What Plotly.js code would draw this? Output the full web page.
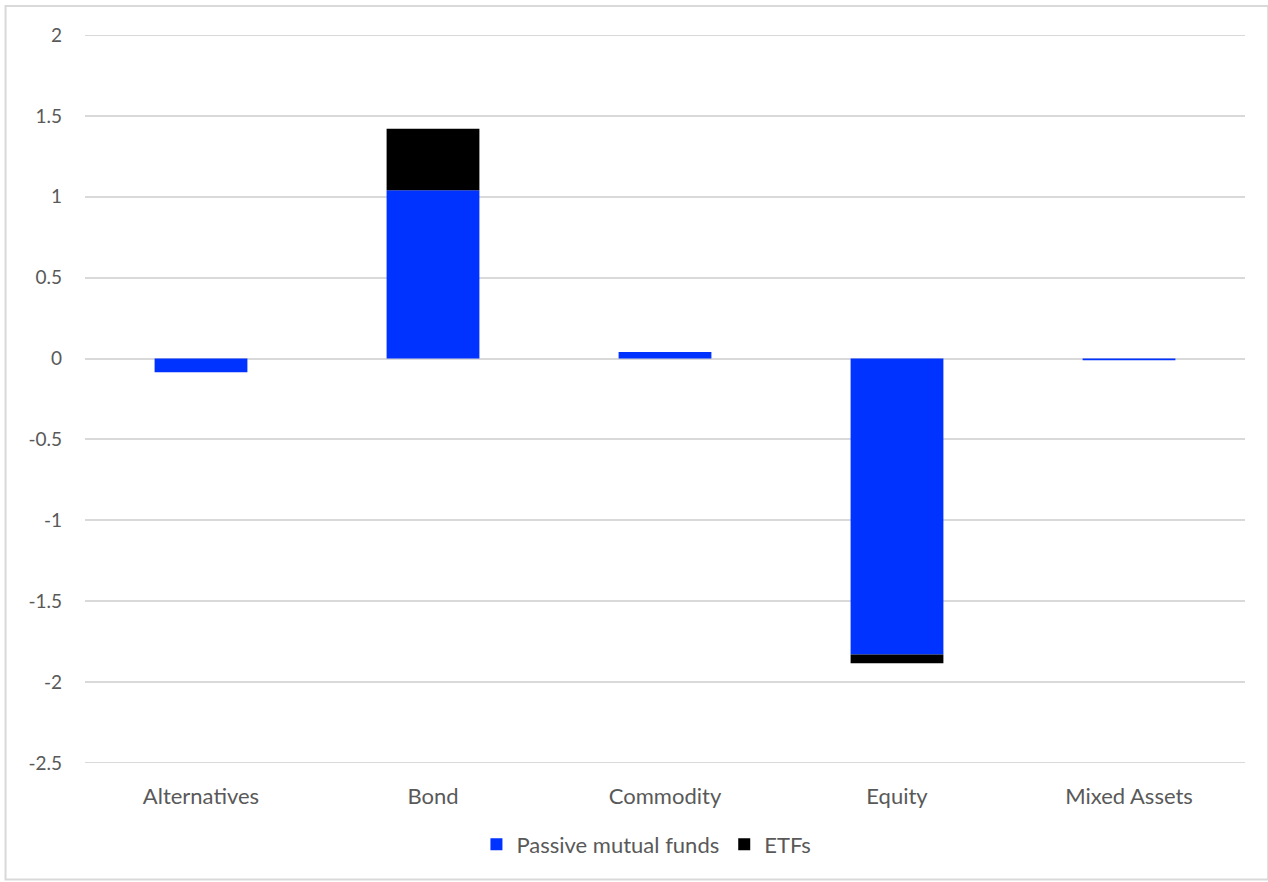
<!DOCTYPE html>
<html>
<head>
<meta charset="utf-8">
<script src="https://cdn.plot.ly/plotly-3.0.1.min.js"></script>
<style>
  html, body { margin: 0; padding: 0; background: #fff; }
  #chart { width: 1268px; height: 882px; }
</style>
</head>
<body>
<div id="chart"></div>
<script>
// Net flows by asset class, split into passive mutual funds and ETFs
const categories = ['Alternatives', 'Bond', 'Commodity', 'Equity', 'Mixed Assets'];
const passiveFunds = [-0.085, 1.04, 0.04, -1.83, -0.01];
const etfs = [0, 0.38, 0, -0.053, 0];
const yTicks = [2, 1.5, 1, 0.5, 0, -0.5, -1, -1.5, -2, -2.5];
const yMin = -2.5, yMax = 2;

const FONT = 'Lato, "Open Sans", sans-serif';
const GRID = '#d9d9d9';

const traces = [
  {
    type: 'bar', name: 'Passive mutual funds', x: categories, y: passiveFunds,
    marker: { color: '#0033ff', line: { width: 0 } },
    hoverinfo: 'x+y'
  },
  {
    type: 'bar', name: 'ETFs', x: categories, y: etfs,
    marker: { color: '#000000', line: { width: 0 } },
    hoverinfo: 'x+y'
  }
];

// Plotly skips gridlines sitting exactly on the plot edges, so draw those two
const edgeLines = [yMax, yMin].map(v => ({
  type: 'line', xref: 'paper', yref: 'y', layer: 'below',
  x0: 0, x1: 1, y0: v, y1: v, line: { color: GRID, width: 2 }
}));

const layout = {
  width: 1268, height: 882,
  paper_bgcolor: '#ffffff', plot_bgcolor: '#ffffff',
  margin: { l: 85, r: 23, t: 35, b: 119 },
  barmode: 'relative',
  bargap: 0.6,
  font: { family: FONT, size: 18, color: '#595959' },
  xaxis: {
    showgrid: false, zeroline: false, showline: false,
    ticks: '', ticklabelstandoff: 18,
    tickfont: { family: FONT, size: 22, color: '#595959' }
  },
  yaxis: {
    range: [yMin, yMax],
    tickvals: yTicks, ticktext: yTicks.map(String),
    showgrid: true, gridcolor: GRID, gridwidth: 2,
    zeroline: true, zerolinecolor: GRID, zerolinewidth: 2,
    showline: false, ticks: '', ticklabelstandoff: 22,
    tickfont: { family: FONT, size: 19, color: '#595959' }
  },
  legend: {
    orientation: 'h', x: 0.484, xanchor: 'center', y: -0.083, yanchor: 'top',
    font: { family: FONT, size: 22, color: '#595959' },
    itemwidth: 30, traceorder: 'normal'
  },
  shapes: [
    { type: 'rect', xref: 'paper', yref: 'paper', layer: 'below',
      x0: -0.0685, x1: 1.02, y0: -0.16, y1: 1.04,
      line: { color: GRID, width: 2 }, fillcolor: 'rgba(0,0,0,0)' }
  ].concat(edgeLines),
  showlegend: true
};

Plotly.newPlot('chart', traces, layout, { displayModeBar: false, staticPlot: true });
</script>
</body>
</html>
